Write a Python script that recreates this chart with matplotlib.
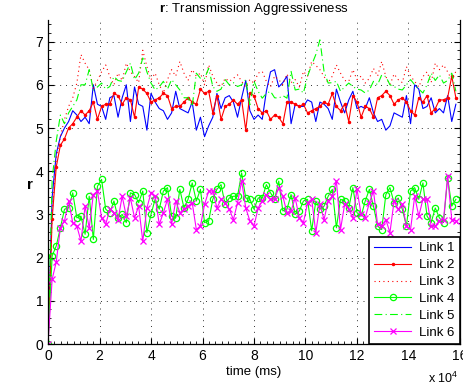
import numpy as np
import matplotlib
matplotlib.use("Agg")
import matplotlib.pyplot as plt
from matplotlib.ticker import MultipleLocator, FuncFormatter

plt.rcParams['font.family'] = ['Liberation Sans', 'DejaVu Sans']
plt.rcParams['mathtext.fontset'] = 'custom'
plt.rcParams['mathtext.rm'] = 'Liberation Sans'
plt.rcParams['mathtext.bf'] = 'Liberation Sans:bold'

# sample times (ms), one sample every 1600 ms
t = np.arange(100) * 1600

link1 = [0, 3.4, 4.4, 4.8, 5.0, 5.15, 5.4, 5.3, 5.15, 5.25,
         5.1, 6.0, 5.55, 5.5, 5.2, 5.7, 5.75, 5.25, 5.7, 6.0,
         5.15, 5.95, 5.55, 5.5, 4.95, 5.8, 5.6, 5.45, 5.4, 5.2,
         5.35, 5.85, 5.45, 5.4, 5.35, 5.6, 4.95, 5.25, 4.8, 5.05,
         5.25, 5.8, 5.45, 5.7, 5.75, 5.6, 5.25, 5.7, 6.1, 5.4,
         5.2, 5.3, 5.2, 5.85, 6.3, 6.35, 5.95, 6.05, 6.2, 5.1,
         5.55, 5.5, 5.5, 5.65, 5.6, 5.15, 5.6, 5.55, 5.45, 5.2,
         5.9, 5.6, 5.35, 5.65, 5.85, 5.45, 5.5, 5.45, 5.7, 5.35,
         5.15, 5.2, 4.95, 5.05, 5.35, 5.3, 5.25, 5.75, 5.1, 6.0,
         5.9, 5.45, 5.5, 5.7, 5.35, 5.45, 5.35, 5.75, 5.15, 5.55]

link2 = [0, 2.9, 4.1, 4.6, 4.75, 5.0, 5.1, 5.25, 5.4, 5.3,
         5.4, 5.6, 5.2, 5.5, 5.55, 5.55, 5.8, 5.75, 5.55, 5.7,
         5.65, 5.25, 5.95, 5.9, 5.8, 5.6, 5.65, 5.7, 5.8, 5.75,
         5.45, 5.5, 5.5, 5.6, 5.7, 5.6, 5.55, 5.9, 5.8, 5.85,
         5.35, 5.75, 5.2, 5.5, 5.55, 5.65, 5.55, 5.65, 4.95, 5.8,
         5.75, 5.45, 5.35, 5.4, 5.2, 5.3, 5.25, 5.1, 5.6, 5.6,
         5.55, 5.5, 5.55, 5.35, 5.4, 5.45, 5.5, 5.6, 5.55, 5.8,
         5.5, 5.4, 5.55, 5.15, 5.75, 5.6, 5.25, 5.5, 5.45, 5.25,
         5.7, 5.75, 5.85, 5.75, 5.55, 5.65, 5.7, 5.6, 5.4, 5.3,
         5.7, 5.6, 5.75, 5.35, 5.45, 5.65, 5.65, 5.7, 6.2, 5.7]

link3 = [0, 3.0, 4.3, 4.8, 5.2, 5.5, 5.7, 6.04, 6.7, 6.5,
         6.35, 5.92, 6.1, 6.3, 6.46, 6.19, 6.0, 6.27, 6.1, 6.5,
         6.3, 6.19, 6.05, 6.8, 6.42, 6.12, 6.27, 6.0, 5.81, 6.12,
         6.35, 6.2, 6.54, 6.27, 6.1, 6.35, 6.2, 6.27, 6.0, 6.46,
         6.2, 6.04, 5.96, 6.15, 6.08, 6.15, 6.23, 6.08, 5.95, 6.12,
         6.04, 6.27, 6.31, 6.08, 5.95, 6.2, 6.12, 6.0, 6.25, 6.05,
         6.12, 5.95, 6.31, 6.2, 6.54, 6.45, 6.35, 6.19, 6.05, 6.2,
         6.46, 6.27, 6.1, 6.08, 6.35, 6.12, 6.2, 6.04, 6.15, 6.38,
         6.2, 6.54, 6.19, 6.0, 6.25, 6.12, 6.05, 6.42, 6.2, 6.08,
         5.95, 6.19, 6.3, 6.05, 6.5, 6.35, 6.46, 6.3, 6.12, 6.31]

link4 = [0, 2.04, 2.27, 2.69, 3.12, 3.15, 3.5, 2.92, 2.96, 2.54,
         3.42, 2.42, 3.65, 3.81, 3.12, 3.04, 3.31, 2.92, 3.0, 2.81,
         3.5, 3.46, 3.27, 3.54, 2.58, 3.0, 3.35, 3.12, 3.54, 3.62,
         2.96, 2.92, 3.58, 3.15, 3.35, 3.73, 3.31, 3.58, 2.81, 2.85,
         3.35, 3.58, 3.69, 3.23, 3.38, 3.42, 3.42, 3.96, 3.38, 3.35,
         3.12, 3.38, 3.38, 3.69, 3.5, 3.35, 3.77, 3.08, 3.12, 3.46,
         3.0, 3.08, 3.31, 3.35, 2.62, 3.31, 3.12, 3.19, 3.42, 3.58,
         2.69, 3.35, 3.31, 3.15, 3.62, 3.04, 2.96, 3.31, 3.58, 3.19,
         2.73, 2.65, 3.46, 3.62, 3.27, 3.38, 3.12, 2.73, 3.54, 3.62,
         3.35, 3.73, 2.96, 2.81, 3.15, 2.92, 2.81, 3.85, 3.19, 3.35]

link5 = [0, 3.8, 4.7, 5.3, 5.1, 5.35, 5.5, 5.65, 6.0, 6.0,
         6.35, 5.88, 5.95, 6.04, 5.9, 5.96, 6.19, 6.1, 6.08, 6.3,
         6.5, 6.12, 6.27, 6.62, 6.3, 6.04, 5.88, 5.95, 6.08, 5.9,
         6.12, 6.0, 5.88, 5.7, 5.7, 5.5, 6.27, 6.15, 6.15, 6.38,
         5.96, 5.85, 5.9, 6.12, 6.0, 6.05, 5.96, 6.0, 6.12, 5.54,
         6.08, 5.85, 5.69, 5.8, 5.85, 5.7, 5.69, 5.75, 5.69, 6.31,
         5.88, 5.9, 5.81, 6.2, 6.46, 6.7, 7.04, 6.31, 6.04, 6.05,
         6.08, 5.85, 5.95, 6.04, 5.96, 5.9, 5.88, 5.81, 5.88, 6.08,
         6.0, 6.23, 6.19, 6.0, 5.96, 5.9, 5.88, 6.0, 6.12, 6.0,
         5.9, 5.81, 6.0, 6.27, 6.1, 6.23, 6.04, 6.1, 6.27, 5.85]

link6 = [0, 1.5, 1.9, 2.69, 2.85, 3.31, 2.81, 2.73, 2.38, 3.19,
         2.69, 3.46, 3.54, 2.92, 2.77, 3.12, 3.04, 2.88, 3.42, 2.96,
         3.38, 2.92, 3.19, 2.38, 3.15, 3.5, 3.42, 2.77, 3.04, 3.35,
         2.77, 3.31, 3.04, 3.12, 3.19, 3.27, 2.65, 2.73, 3.23, 3.54,
         3.54, 3.15, 3.35, 3.27, 3.12, 2.88, 3.27, 3.77, 3.15, 2.85,
         2.73, 3.15, 3.31, 3.46, 3.35, 3.35, 3.62, 3.42, 3.04, 3.08,
         3.38, 2.92, 2.81, 3.27, 3.35, 2.58, 3.23, 2.88, 3.31, 3.42,
         3.77, 2.65, 3.23, 3.12, 2.92, 3.58, 3.0, 2.92, 3.27, 3.54,
         2.77, 2.73, 2.88, 2.58, 3.31, 3.12, 3.23, 2.73, 2.65, 3.42,
         2.96, 3.35, 3.35, 2.73, 2.73, 2.85, 2.88, 3.88, 2.88, 2.85]

fig = plt.figure(figsize=(4.63, 3.92), dpi=100)
ax = fig.add_axes([0.1037, 0.1224, 0.8898, 0.8266])

lw = 0.8
ax.plot(t, link1, color='blue', lw=lw, label='Link 1')
ax.plot(t, link2, color='red', lw=lw, marker='.', markersize=3, label='Link 2')
ax.plot(t, link3, color='red', lw=lw, linestyle=(0, (1, 3)), label='Link 3')
ax.plot(t, link4, color='#00ff00', lw=lw, marker='o', markersize=4.5,
        markerfacecolor='none', markeredgewidth=0.9, label='Link 4')
ax.plot(t, link5, color='#00ff00', lw=lw, linestyle=(0, (7, 3, 1, 3)), label='Link 5')
ax.plot(t, link6, color='magenta', lw=lw, marker='x', markersize=4,
        markeredgewidth=0.9, label='Link 6')

ax.set_xlim(0, 160000)
ax.set_ylim(0, 7.5)
ax.xaxis.set_major_locator(MultipleLocator(20000))
ax.xaxis.set_major_formatter(FuncFormatter(lambda v, p: '%d' % round(v / 1e4)))
ax.xaxis.set_minor_locator(MultipleLocator(2500))
ax.yaxis.set_major_locator(MultipleLocator(1))
ax.yaxis.set_minor_locator(MultipleLocator(0.2))
ax.tick_params(which='both', direction='in', right=True, top=False, labelsize=10)
ax.tick_params(which='major', length=4, width=0.8)
ax.tick_params(which='minor', length=2, width=0.6)
ax.spines['top'].set_visible(False)
for s in ('left', 'right', 'bottom'):
    ax.spines[s].set_linewidth(0.9)

ax.grid(True, which='major', color='#333333', linestyle=(0, (1, 5)), linewidth=0.7)

ax.set_title(r'$\mathbf{r}$: Transmission Aggressiveness', fontsize=9.5, pad=6)
ax.set_xlabel('time (ms)', fontsize=9.5, labelpad=2)
ax.set_ylabel('r', fontsize=11, fontweight='bold', rotation=0)
ax.yaxis.set_label_coords(-0.045, 0.47)
fig.text(0.925, 0.022, r'x 10$^{4}$', fontsize=9)

leg = ax.legend(loc='lower right', fontsize=9.5, frameon=True, fancybox=False,
                framealpha=1, edgecolor='black', borderaxespad=0,
                handlelength=2.8, handletextpad=0.6, labelspacing=0.35,
                borderpad=0.4)
leg.get_frame().set_linewidth(1.2)

fig.savefig('out.png', dpi=100)
